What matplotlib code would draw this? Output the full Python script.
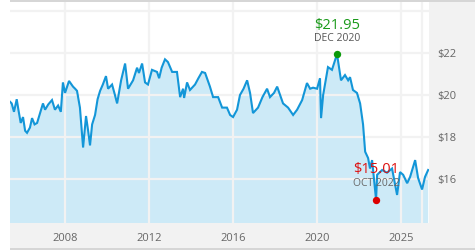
import matplotlib
matplotlib.use("Agg")
import matplotlib.pyplot as plt
from matplotlib.patches import Rectangle

plt.rcParams['font.family'] = ['Open Sans', 'DejaVu Sans']

# decimal-year dates and prices
years = [2005.38, 2005.46, 2005.57, 2005.70, 2005.78, 2005.89, 2006.00, 2006.10, 2006.19, 2006.33,
         2006.43, 2006.55, 2006.67, 2006.80, 2006.95, 2007.05, 2007.20, 2007.38, 2007.52, 2007.67,
         2007.80, 2007.90, 2008.00, 2008.19, 2008.38, 2008.48, 2008.57, 2008.71, 2008.86, 2009.00,
         2009.10, 2009.19, 2009.29, 2009.43, 2009.55, 2009.67, 2009.80, 2009.95, 2010.05, 2010.24,
         2010.35, 2010.48, 2010.67, 2010.86, 2011.00, 2011.24, 2011.43, 2011.52, 2011.67, 2011.81,
         2011.95, 2012.14, 2012.38, 2012.48, 2012.60, 2012.76, 2012.90, 2013.10, 2013.33, 2013.48,
         2013.62, 2013.67, 2013.81, 2013.95, 2014.19, 2014.35, 2014.52, 2014.67, 2014.90, 2015.05,
         2015.29, 2015.48, 2015.71, 2015.86, 2016.00, 2016.19, 2016.33, 2016.50, 2016.67, 2016.81,
         2016.95, 2017.19, 2017.40, 2017.62, 2017.76, 2017.95, 2018.10, 2018.38, 2018.62, 2018.86,
         2019.05, 2019.29, 2019.52, 2019.67, 2019.81, 2020.00, 2020.14, 2020.19, 2020.29, 2020.52,
         2020.71, 2020.95, 2021.14, 2021.33, 2021.48, 2021.57, 2021.71, 2021.90, 2022.05, 2022.19,
         2022.29, 2022.43, 2022.52, 2022.62, 2022.81, 2022.86, 2023.10, 2023.33, 2023.57, 2023.81,
         2023.95, 2024.10, 2024.29, 2024.43, 2024.67, 2024.81, 2025.00, 2025.14, 2025.29]
prices = [19.68, 19.60, 19.20, 19.80, 19.30, 18.67, 18.95, 18.30, 18.20, 18.45,
          18.90, 18.60, 18.67, 19.10, 19.60, 19.30, 19.55, 19.76, 19.30, 19.50,
          19.20, 20.60, 20.10, 20.67, 20.40, 20.30, 20.20, 19.40, 17.50, 19.00,
          18.30, 17.60, 18.60, 19.05, 19.80, 20.20, 20.50, 20.90, 20.30, 20.50,
          20.10, 19.60, 20.70, 21.50, 20.30, 20.70, 21.30, 21.05, 21.50, 20.60,
          20.50, 21.20, 21.10, 20.80, 21.30, 21.70, 21.57, 21.10, 21.10, 19.90,
          20.30, 19.86, 20.60, 20.24, 20.50, 20.80, 21.10, 21.05, 20.40, 19.90,
          19.90, 19.40, 19.40, 19.05, 18.95, 19.30, 20.00, 20.30, 20.70, 20.10,
          19.14, 19.40, 19.90, 20.30, 19.90, 20.10, 20.40, 19.60, 19.40, 19.05,
          19.30, 19.76, 20.57, 20.30, 20.35, 20.30, 20.80, 18.90, 20.00, 21.33,
          21.20, 21.95, 20.70, 20.95, 20.70, 20.85, 20.24, 20.10, 19.60, 18.60,
          17.30, 17.00, 16.50, 16.90, 15.01, 16.20, 16.43, 16.30, 16.50, 15.24,
          16.33, 16.20, 15.80, 16.10, 16.90, 16.05, 15.50, 16.10, 16.43]

xtick_pos = [2008, 2012, 2016, 2020, 2024]
xtick_labels = ["2008", "2012", "2016", "2020", "2025"]
extra_vgrid = [2025]
ytick_vals = [16, 18, 20, 22]
ygrid_vals = [16, 18, 20, 22, 24]

hi_year, hi_val, hi_label = 2020.95, 21.95, "DEC 2020"
lo_year, lo_val, lo_label = 2022.81, 15.01, "OCT 2022"

W, H = 475, 250
fig = plt.figure(figsize=(W / 100, H / 100), dpi=100)
fig.patch.set_facecolor("white")

def frect(x0, y0, x1, y1, color, z=0):
    # pixel coords (top-left origin) to figure fraction
    fig.add_artist(Rectangle((x0 / W, 1 - y1 / H), (x1 - x0) / W, (y1 - y0) / H,
                             transform=fig.transFigure, facecolor=color,
                             edgecolor="none", zorder=z))

frect(429, 2, 475, 248, "#f2f2f2")
frect(10, 223, 475, 248, "#f2f2f2")
frect(10, 0, 475, 2, "#d6d6d6")
frect(10, 248, 475, 250, "#d6d6d6")

ax = fig.add_axes([10 / W, 1 - 223 / H, 419 / W, 221 / H])
ax.set_facecolor("white")
ax.set_xlim(2005.38, 2025.33)
ax.set_ylim(13.905, 24.43)
for s in ax.spines.values():
    s.set_visible(False)

ax.fill_between(years, prices, 0, color="#cdeaf7", lw=0, zorder=1)
for gy in ygrid_vals:
    ax.axhline(gy, color="#f2f2f2", lw=1.6, zorder=2)
for gx in xtick_pos + extra_vgrid:
    ax.axvline(gx, color="#f2f2f2", lw=1.6, zorder=2)
ax.plot(years, prices, color="#1396d8", lw=1.5, zorder=3, solid_joinstyle="miter")

ax.scatter([hi_year], [hi_val], s=28, color="#0a9a0a", zorder=5, lw=0)
ax.scatter([lo_year], [lo_val], s=28, color="#dd0000", zorder=5, lw=0)

ax.annotate(f"${hi_val:.2f}", (hi_year, hi_val), xytext=(0, 20.5), textcoords="offset points",
            ha="center", va="center", color="#1a9a1a", fontsize=10.5, zorder=6)
ax.annotate(hi_label, (hi_year, hi_val), xytext=(0, 11), textcoords="offset points",
            ha="center", va="center", color="#555555", fontsize=7.5, zorder=6)
ax.annotate(f"${lo_val:.2f}", (lo_year, lo_val), xytext=(0, 22), textcoords="offset points",
            ha="center", va="center", color="#dd1111", fontsize=10.5, zorder=6)
ax.annotate(lo_label, (lo_year, lo_val), xytext=(0, 12), textcoords="offset points",
            ha="center", va="center", color="#666666", fontsize=7.5, zorder=6)

ax.set_xticks(xtick_pos)
ax.set_xticklabels(xtick_labels)
ax.set_yticks(ytick_vals)
ax.set_yticklabels([f"${v}" for v in ytick_vals])
ax.yaxis.tick_right()
ax.tick_params(axis="both", length=0, colors="#666666", labelsize=8)
ax.tick_params(axis="y", pad=6)
ax.tick_params(axis="x", pad=7)
ax.grid(False)

fig.savefig("out.png", dpi=100)
